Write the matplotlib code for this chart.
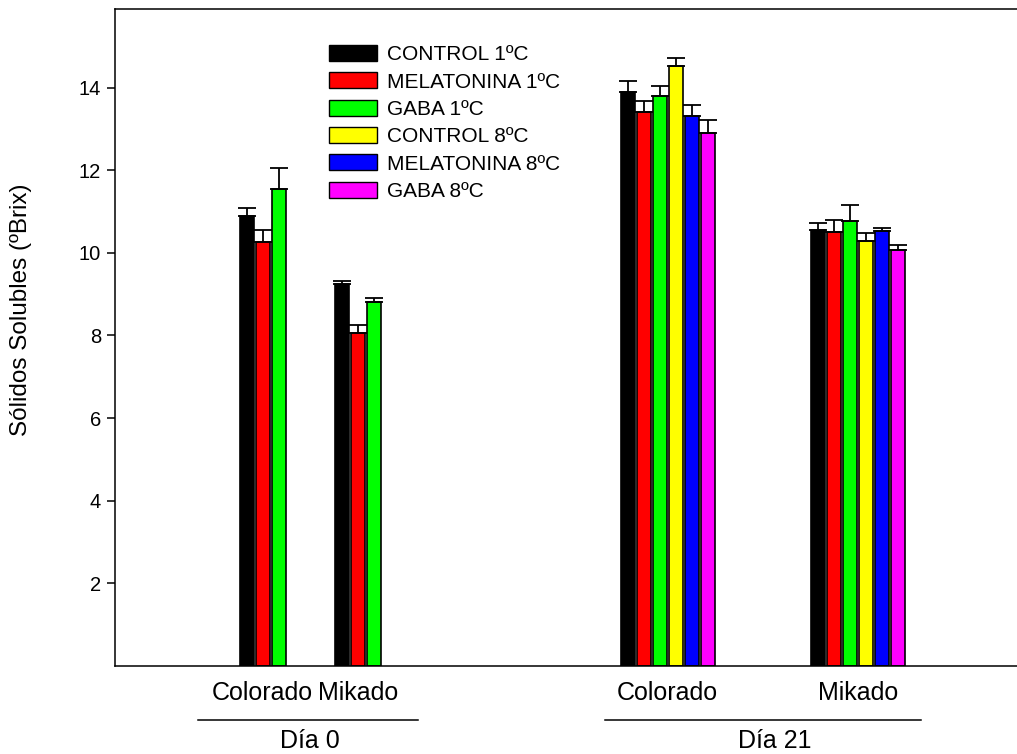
import numpy as np
from matplotlib import pyplot as plt
from matplotlib.patches import Patch
import matplotlib.transforms as mtransforms

plt.rcParams['font.family'] = ['Liberation Sans', 'DejaVu Sans']

# series names and colours
series = ['CONTROL 1ºC', 'MELATONINA 1ºC', 'GABA 1ºC',
          'CONTROL 8ºC', 'MELATONINA 8ºC', 'GABA 8ºC']
colors = ['#000000', '#ff0000', '#00ff00', '#ffff00', '#0000ff', '#ff00ff']

# groups: (day, cultivar)
cultivars = ['Colorado', 'Mikado', 'Colorado', 'Mikado']
days = ['Día 0', 'Día 21']
group_start = [1.245, 2.197, 5.057, 6.957]   # left edge of the first bar in each group

# means (ºBrix), one list per group, in series order
means = [
    [10.89, 10.26, 11.55],
    [9.24, 8.06, 8.82],
    [13.89, 13.41, 13.79, 14.53, 13.30, 12.90],
    [10.54, 10.50, 10.76, 10.28, 10.53, 10.07],
]
# upper error bar ends
tops = [
    [11.09, 10.55, 12.04],
    [9.31, 8.26, 8.91],
    [14.16, 13.67, 14.03, 14.72, 13.58, 13.21],
    [10.71, 10.80, 11.15, 10.47, 10.59, 10.18],
]

w = 0.14
step = 0.16

fig = plt.figure(figsize=(10.17, 7.54), dpi=100)
ax = fig.add_axes([115/1017, 1 - 666/754, 902/1017, (666 - 9)/754])

centers = []
for g in range(len(cultivars)):
    m = np.array(means[g])
    err = np.array(tops[g]) - m
    xs = group_start[g] + w/2 + step*np.arange(len(m))
    centers.append(xs.mean())
    for i in range(len(m)):
        ax.bar(xs[i], m[i], width=w, color=colors[i], edgecolor='black',
               linewidth=1.2, zorder=2)
        ax.errorbar(xs[i], m[i], yerr=[[0], [err[i]]], fmt='none',
                    ecolor='black', elinewidth=1.3, capsize=6.5,
                    capthick=1.3, zorder=3)

ax.set_xlim(0, 9.02)
ax.set_ylim(0, 15.9)
ax.set_yticks([2, 4, 6, 8, 10, 12, 14])
ax.tick_params(axis='y', direction='out', length=6, width=1.1, labelsize=14.5, pad=4)
ax.set_xticks(centers)
ax.set_xticklabels(cultivars, fontsize=18)
ax.tick_params(axis='x', length=0, pad=11)
for s in ['left', 'top', 'bottom']:
    ax.spines[s].set_linewidth(1.1)
ax.spines['right'].set_visible(False)

ax.set_ylabel('Sólidos Solubles (ºBrix)', fontsize=17.5)
ax.yaxis.set_label_coords(-0.092, 0.542)

# day brackets under the axis
trans = mtransforms.blended_transform_factory(ax.transData, ax.transAxes)
day_span = [(0.83, 3.03), (4.90, 8.06)]
day_mid = [1.95, 6.60]
for (x0, x1), d, xm in zip(day_span, days, day_mid):
    ax.plot([x0, x1], [-0.082, -0.082], color='black', lw=1.1,
            transform=trans, clip_on=False)
    ax.text(xm, -0.114, d, transform=trans, ha='center',
            va='center', fontsize=18)

handles = [Patch(facecolor=c, edgecolor='black', linewidth=1.0) for c in colors]
ax.legend(handles, series, loc='upper left', bbox_to_anchor=(329/1017, 1 - 45/754),
          bbox_transform=fig.transFigure, frameon=False, fontsize=15,
          handlelength=2.3, handleheight=0.8, labelspacing=0.39,
          handletextpad=0.5, borderpad=0, borderaxespad=0)

fig.savefig('out.png', dpi=100)
